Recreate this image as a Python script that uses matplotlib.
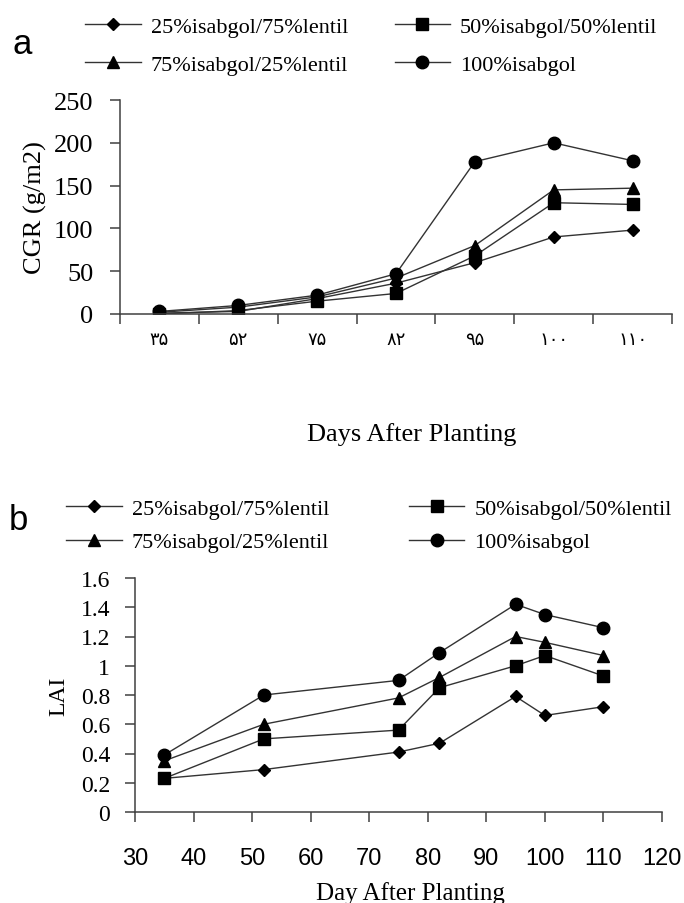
import numpy as np
import matplotlib
matplotlib.use("Agg")
import matplotlib.pyplot as plt
from matplotlib.ticker import FuncFormatter

plt.rcParams['font.family'] = ['Liberation Serif', 'DejaVu Sans']

# --- data ---
series_names = ['25%isabgol/75%lentil', '50%isabgol/50%lentil',
                '75%isabgol/25%lentil', '100%isabgol']
markers = ['D', 's', '^', 'o']
marker_sizes = [6.5, 8, 9, 9]

# panel a: CGR, categorical x (persian digits)
cgr_days = ['۳۵', '۵۲', '۷۵', '۸۲', '۹۵', '۱۰۰', '۱۱۰']
cgr_25 = [1, 3, 18, 36, 60, 90, 98]
cgr_50 = [0, 4, 15, 24, 68, 130, 128]
cgr_75 = [2, 8, 20, 42, 80, 145, 147]
cgr_100 = [3, 10, 22, 47, 178, 200, 179]

# panel b: LAI vs day
lai_days = [35, 52, 75, 82, 95, 100, 110]
lai_25 = [0.23, 0.29, 0.41, 0.47, 0.79, 0.66, 0.72]
lai_50 = [0.23, 0.50, 0.56, 0.85, 1.00, 1.07, 0.93]
lai_75 = [0.35, 0.60, 0.78, 0.92, 1.20, 1.16, 1.07]
lai_100 = [0.39, 0.80, 0.90, 1.09, 1.42, 1.35, 1.26]

cgr_ticks = [0, 50, 100, 150, 200, 250]
lai_xticks = [30, 40, 50, 60, 70, 80, 90, 100, 110, 120]
lai_yticks = [0, 0.2, 0.4, 0.6, 0.8, 1.0, 1.2, 1.4, 1.6]

line_col = '#333333'
spine_col = '#404040'

fig = plt.figure(figsize=(6.84, 9.04), dpi=100)


def style_axes(ax):
    for s in ['top', 'right']:
        ax.spines[s].set_visible(False)
    for s in ['left', 'bottom']:
        ax.spines[s].set_color(spine_col)
        ax.spines[s].set_linewidth(1.1)


def add_legend(handles, anchor, colspace, rowspace):
    # order so rows read: 25/75, 50/50 then 75/25, 100
    order = [0, 2, 1, 3]
    leg = fig.legend([handles[i] for i in order], [series_names[i] for i in order],
                     ncol=2, loc='upper left', bbox_to_anchor=anchor,
                     frameon=False, fontsize=16, handlelength=2.5,
                     handletextpad=0.45, columnspacing=colspace,
                     labelspacing=rowspace, numpoints=1, borderaxespad=0,
                     borderpad=0)
    return leg


# ---------- panel a ----------
ax1 = fig.add_axes([120 / 684, 1 - 315 / 904, 552 / 684, 214 / 904])
xpos = np.arange(len(cgr_days))
hs = []
for vals, m, ms in zip([cgr_25, cgr_50, cgr_75, cgr_100], markers, marker_sizes):
    h, = ax1.plot(xpos, vals, marker=m, ms=ms, color=line_col, lw=1.0,
                  mfc='black', mec='black')
    hs.append(h)
ax1.set_xlim(-0.5, len(cgr_days) - 0.5)
ax1.set_ylim(0, 250)
ax1.set_yticks(cgr_ticks)
ax1.set_xticks(xpos)
ax1.set_xticklabels(cgr_days, fontsize=13)
ax1.set_xticks(np.arange(-0.5, len(cgr_days)), minor=True)
ax1.tick_params(axis='x', which='major', length=0, pad=12)
ax1.tick_params(axis='x', which='minor', length=7, width=1.1, color=spine_col)
ax1.tick_params(axis='y', length=7, width=1.1, color=spine_col, pad=12, labelsize=19)
ax1.set_ylabel('CGR (g/m2)', fontsize=19, labelpad=5)
style_axes(ax1)
fig.text(412 / 684, 1 - 435 / 904, 'Days After Planting', fontsize=19,
         ha='center', va='center')
fig.text(22 / 684, 1 - 45 / 904, 'a', fontsize=25, family='Liberation Sans',
         ha='center', va='center')
add_legend(hs, (85 / 684, 1 - 17 / 904), 2.1, 0.8)

# ---------- panel b ----------
ax2 = fig.add_axes([135 / 684, 1 - 813 / 904, 527 / 684, 234 / 904])
hs2 = []
for vals, m, ms in zip([lai_25, lai_50, lai_75, lai_100], markers, marker_sizes):
    h, = ax2.plot(lai_days, vals, marker=m, ms=ms, color=line_col, lw=1.0,
                  mfc='black', mec='black')
    hs2.append(h)
ax2.set_xlim(30, 120)
ax2.set_ylim(0, 1.6)
ax2.set_xticks(lai_xticks)
ax2.set_yticks(lai_yticks)
ax2.yaxis.set_major_formatter(FuncFormatter(lambda v, p: '%g' % round(v, 1)))
ax2.tick_params(axis='x', length=7, width=1.1, color=spine_col, pad=18,
                labelsize=17)
for lab in ax2.get_xticklabels():
    lab.set_family('Liberation Sans')
ax2.tick_params(axis='y', length=7, width=1.1, color=spine_col, pad=11, labelsize=17)
ax2.set_ylabel('LAI', fontsize=17, labelpad=8)
style_axes(ax2)
fig.text(410 / 684, 1 - 882 / 904, 'Day After Planting', fontsize=18,
         ha='center', va='top')
fig.text(18 / 684, 1 - 520 / 904, 'b', fontsize=25, family='Liberation Sans',
         ha='center', va='center')
add_legend(hs2, (66 / 684, 1 - 499 / 904), 3.6, 0.6)

fig.savefig('out.png', dpi=100)
